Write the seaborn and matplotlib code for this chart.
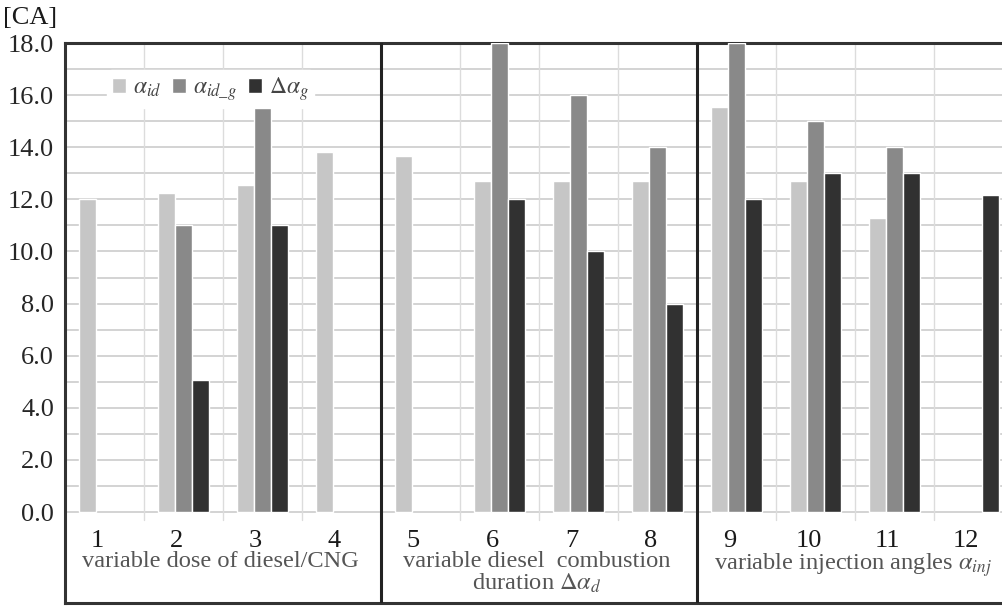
import matplotlib
matplotlib.use("Agg")
import matplotlib.pyplot as plt
import seaborn as sns
import pandas as pd
import numpy as np

# data (NaN = no bar)
categories = ["1", "2", "3", "4", "5", "6", "7", "8", "9", "10", "11", "12"]
alpha_id = [12.0, 12.25, 12.55, 13.8, 13.65, 12.7, 12.7, 12.7, 15.55, 12.7, 11.3, np.nan]
alpha_id_g = [np.nan, 11.0, 15.7, np.nan, np.nan, 18.0, 16.0, 14.0, 18.0, 15.0, 14.0, np.nan]
delta_alpha_g = [np.nan, 5.05, 11.0, np.nan, np.nan, 12.0, 10.0, 8.0, 12.0, 13.0, 13.0, 12.15]
series_names = [r"$\alpha_{id}$", r"$\alpha_{id\_g}$", r"$\Delta\alpha_g$"]
group_labels = ["variable dose of diesel/CNG",
                "variable diesel  combustion\nduration $\\Delta\\alpha_d$",
                "variable injection angles $\\alpha_{inj}$"]
y_ticks = [0, 2, 4, 6, 8, 10, 12, 14, 16, 18]

df = pd.DataFrame({"cat": categories * 3,
                   "series": [series_names[0]] * 12 + [series_names[1]] * 12 + [series_names[2]] * 12,
                   "value": alpha_id + alpha_id_g + delta_alpha_g})

sns.set_style("white")
plt.rcParams["font.family"] = ["Liberation Serif", "DejaVu Serif"]
plt.rcParams["mathtext.fontset"] = "stix"

fig = plt.figure(figsize=(10.03, 6.06), dpi=100)
ax = fig.add_axes([65 / 1003, 3 / 606, 948 / 1003, 560 / 606])

palette = ["#c6c6c6", "#898989", "#313131"]
sns.barplot(data=df, x="cat", y="value", hue="series", hue_order=series_names,
            order=categories, palette=palette, width=0.64, errorbar=None,
            saturation=1, ax=ax, zorder=3)

ax.set_xlim(-0.5, 11.5)
ax.set_ylim(-3.49, 18)

# grid
for v in np.arange(0, 19, 1):
    ax.axhline(v, color="#d0d0d0", lw=1.3, zorder=1)
for i in range(12):
    ax.plot([i + 0.5, i + 0.5], [-0.3, 18], color="#dcdcdc", lw=1.0, zorder=1)
for xs in [3.5, 7.5]:
    ax.axvline(xs, color="#222222", lw=2.2, zorder=4)

ax.set_yticks(y_ticks)
ax.set_yticklabels([f"{t:.1f}" for t in y_ticks], fontsize=19)
ax.tick_params(axis="y", length=0, pad=8)
ax.set_xticks([])
ax.set_xlabel("")
ax.set_ylabel("")

for side in ["left", "top", "bottom", "right"]:
    ax.spines[side].set_color("#333333")
    ax.spines[side].set_linewidth(2.2)

for i, c in enumerate(categories):
    ax.text(i - 0.09, -1.1, c, ha="center", va="center", fontsize=19, color="#1a1a1a")

group_x = [1.5, 5.5, 9.5]
for gx, lab in zip(group_x, group_labels):
    ax.text(gx - 0.03, -1.5, lab, ha="center", va="top", fontsize=17.6, color="#555555",
            linespacing=1.0)

leg = ax.legend(loc="upper left", bbox_to_anchor=(0.032, 0.972), ncol=3, frameon=True,
                fontsize=17, handlelength=0.6, handleheight=0.6, handletextpad=0.3,
                columnspacing=0.45, borderpad=0.2)
leg.get_frame().set_edgecolor("white")
leg.get_frame().set_facecolor("white")
leg.get_frame().set_alpha(1)
for t in leg.get_texts():
    t.set_color("#444444")

fig.text(3 / 1003, 1 - 18 / 606, "[CA]", fontsize=19, va="center", ha="left", color="#1a1a1a")

fig.savefig("out.png", dpi=100)
